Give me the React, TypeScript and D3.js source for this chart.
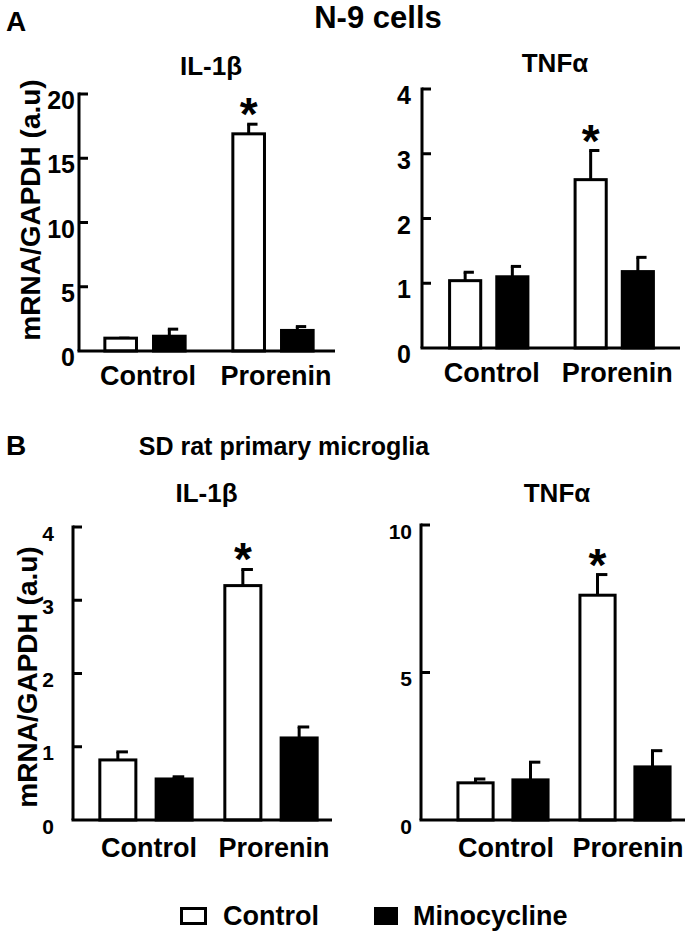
import React from 'react';
import * as d3 from 'd3';

const groups = ['Control', 'Prorenin'];
const treatments = ['Control', 'Minocycline'];

// values per group, in treatment order [Control, Minocycline]
const n9Il1bMean = [[1.0, 1.15], [16.9, 1.6]];
const n9Il1bSem = [[0.0, 0.55], [0.75, 0.3]];
const n9TnfMean = [[1.04, 1.1], [2.6, 1.18]];
const n9TnfSem = [[0.13, 0.16], [0.45, 0.22]];

const sdIl1bMean = [[0.82, 0.56], [3.2, 1.12]];
const sdIl1bSem = [[0.11, 0.03], [0.22, 0.15]];
const sdTnfMean = [[1.26, 1.36], [7.62, 1.8]];
const sdTnfSem = [[0.13, 0.6], [0.7, 0.55]];

const n9Il1bTicks = [0, 5, 10, 15, 20];
const n9TnfTicks = [0, 1, 2, 3, 4];
const sdIl1bTicks = [0, 1, 2, 3, 4];
const sdTnfTicks = [0, 5, 10];

// the starred bar in each panel
const starGroup = 'Prorenin';
const starTreatment = 'Control';

const FONT = '"Liberation Sans", Arial, Helvetica, sans-serif';

function Panel({ title, titleY, mean, sem, ticks, layout, yLabel, tickSize, tickPad, catY }) {
    const { axisX, axisEnd, bandStart, bandEnd, y0, yTop, padIn, padOut } = layout;
    const y = d3.scaleLinear().domain([0, ticks[ticks.length - 1]]).range([y0, yTop]);
    const x0 = d3.scaleBand().domain(groups).range([bandStart, bandEnd]).padding(0);
    const x1 = d3.scaleBand().domain(treatments).range([0, x0.bandwidth()])
        .paddingInner(padIn).paddingOuter(padOut);
    const bw = x1.bandwidth();
    const cap = bw * 0.28;

    return (
        <g>
            <text x={(axisX + axisEnd) / 2 + 4} y={titleY} textAnchor="middle"
                fontSize={26} fontWeight="bold">{title}</text>
            {yLabel && (
                <text transform={`translate(${yLabel.x},${yLabel.y}) rotate(-90)`} textAnchor="middle"
                    dominantBaseline="central" fontSize={28} fontWeight="bold">mRNA/GAPDH (a.u)</text>
            )}
            {groups.map((g, gi) => (
                <g key={g} transform={`translate(${x0(g)},0)`}>
                    {treatments.map((t, ti) => {
                        const v = mean[gi][ti];
                        const e = sem[gi][ti];
                        const cx = x1(t) + bw / 2;
                        const top = y(v + e);
                        return (
                            <g key={t}>
                                <line x1={cx} x2={cx} y1={y(v)} y2={top} stroke="#000" strokeWidth={3} />
                                <line x1={cx - 1.5} x2={cx + cap} y1={top} y2={top} stroke="#000" strokeWidth={3} />
                                <rect x={x1(t)} y={y(v)} width={bw} height={y0 - y(v)}
                                    fill={ti === 0 ? '#fff' : '#000'} stroke="#000" strokeWidth={3} />
                                {g === starGroup && t === starTreatment && (
                                    <text x={cx} y={top + 6} textAnchor="middle" fontSize={46}
                                        fontWeight="bold">*</text>
                                )}
                            </g>
                        );
                    })}
                    <text x={x0.bandwidth() / 2 + 3} y={catY} textAnchor="middle" fontSize={27}
                        fontWeight="bold">{g}</text>
                </g>
            ))}
            <line x1={axisX} x2={axisX} y1={yTop - 1.5} y2={y0} stroke="#000" strokeWidth={3} />
            <line x1={axisX - 1.5} x2={axisEnd} y1={y0} y2={y0} stroke="#000" strokeWidth={3} />
            {ticks.map(tk => (
                <g key={tk}>
                    {tk !== 0 && (
                        <line x1={axisX} x2={axisX + 9} y1={y(tk)} y2={y(tk)} stroke="#000" strokeWidth={3} />
                    )}
                    <text x={axisX - tickPad} y={y(tk) + 6} textAnchor="end" dominantBaseline="central"
                        fontSize={tickSize} fontWeight="bold">{tk}</text>
                </g>
            ))}
        </g>
    );
}

export default function App() {
    return (
        <svg width={693} height={938} style={{ position: 'absolute', left: 0, top: 0, background: '#fff' }}
            fontFamily={FONT}>
            <text x={6} y={31} fontSize={28} fontWeight="bold">A</text>
            <text x={378} y={28} textAnchor="middle" fontSize={31} fontWeight="bold">N-9 cells</text>
            <Panel title="IL-1β" titleY={75} mean={n9Il1bMean} sem={n9Il1bSem} ticks={n9Il1bTicks}
                layout={{ axisX: 79, axisEnd: 335, bandStart: 81, bandEnd: 337, y0: 351, yTop: 94, padIn: 0.35, padOut: 0.49 }}
                yLabel={{ x: 30, y: 210 }} tickSize={25} tickPad={4} catY={385} />
            <Panel title="TNFα" titleY={72} mean={n9TnfMean} sem={n9TnfSem} ticks={n9TnfTicks}
                layout={{ axisX: 422, axisEnd: 680, bandStart: 426, bandEnd: 677, y0: 348, yTop: 89, padIn: 0.34, padOut: 0.5 }}
                tickSize={25} tickPad={11} catY={382} />

            <text x={6} y={455} fontSize={28} fontWeight="bold">B</text>
            <text x={284} y={455} textAnchor="middle" fontSize={25} fontWeight="bold">SD rat primary microglia</text>
            <Panel title="IL-1β" titleY={502} mean={sdIl1bMean} sem={sdIl1bSem} ticks={sdIl1bTicks}
                layout={{ axisX: 73, axisEnd: 332, bandStart: 83.5, bandEnd: 333.5, y0: 820, yTop: 527, padIn: 0.36, padOut: 0.29 }}
                yLabel={{ x: 27, y: 677 }} tickSize={21} tickPad={19} catY={857} />
            <Panel title="TNFα" titleY={502} mean={sdTnfMean} sem={sdTnfSem} ticks={sdTnfTicks}
                layout={{ axisX: 421, axisEnd: 685, bandStart: 442, bandEnd: 686, y0: 820, yTop: 525, padIn: 0.36, padOut: 0.29 }}
                tickSize={21} tickPad={9} catY={857} />

            <g>
                <rect x={181.5} y={908.5} width={24} height={15} fill="#fff" stroke="#000" strokeWidth={3} />
                <text x={223} y={925} fontSize={27} fontWeight="bold">{treatments[0]}</text>
                <rect x={374} y={907} width={24} height={18} fill="#000" />
                <text x={413} y={925} fontSize={27} fontWeight="bold">{treatments[1]}</text>
            </g>
        </svg>
    );
}
